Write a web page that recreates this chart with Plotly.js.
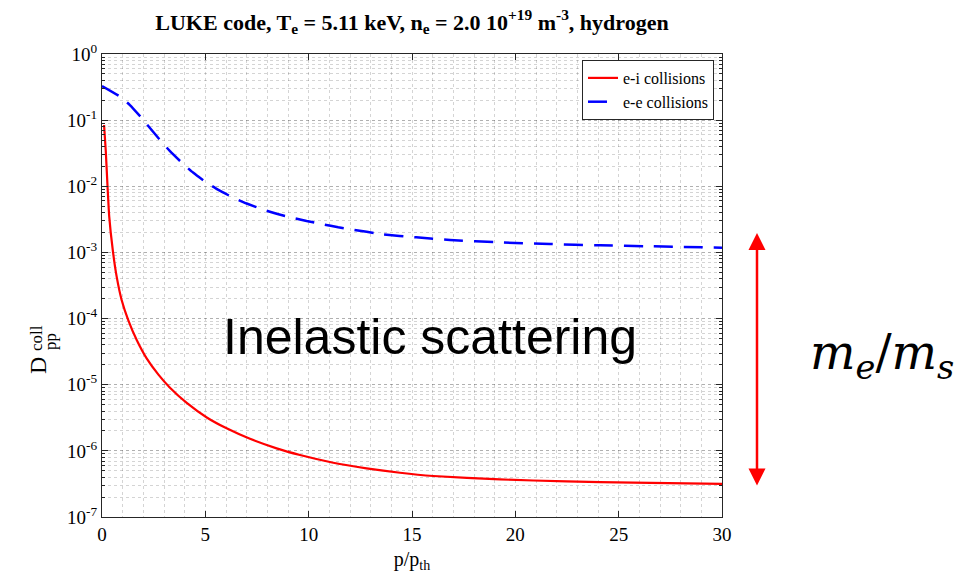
<!DOCTYPE html>
<html>
<head>
<meta charset="utf-8">
<script src="https://cdn.plot.ly/plotly-3.0.1.min.js"></script>
<style>html,body{margin:0;padding:0;background:#fff;}#chart{width:973px;height:577px;}</style>
</head>
<body>
<div id="chart"></div>
<script>
// e-i collisions (red, solid)
const eiX = [0.10, 0.18, 0.26, 0.35, 0.52, 0.71, 0.95, 1.27, 1.68, 2.16, 2.73, 3.29, 4.1, 5.07, 6.03, 7.16, 8.45, 9.58, 11.19, 12.8, 14.42, 16.03, 19.26, 22.48, 25.7, 30];
const eiY = [0.0845, 0.0354, 0.0111, 3.47e-3, 1.09e-3, 4.3e-4, 1.91e-4, 9.5e-5, 4.74e-5, 2.5e-5, 1.42e-5, 9.0e-6, 5.3e-6, 3.2e-6, 2.19e-6, 1.52e-6, 1.09e-6, 8.65e-7, 6.62e-7, 5.45e-7, 4.67e-7, 4.17e-7, 3.7e-7, 3.45e-7, 3.3e-7, 3.17e-7];
// e-e collisions (blue, dashed)
const eeX = [0, 0.87, 1.35, 1.92, 2.32, 2.89, 3.29, 3.93, 4.42, 5.07, 5.63, 6.35, 7.0, 7.8, 8.45, 9.26, 9.9, 10.7, 11.43, 12.0, 13.6, 15.2, 16.84, 19.26, 21.68, 24.1, 26.5, 30];
const eeY = [0.328, 0.227, 0.169, 0.1077, 0.0761, 0.0467, 0.0340, 0.0217, 0.0160, 0.0113, 0.00881, 0.00672, 0.00549, 0.00444, 0.00384, 0.00331, 0.00298, 0.00266, 0.00240, 0.00224, 0.00188, 0.00169, 0.00154, 0.00142, 0.00134, 0.00128, 0.00124, 0.00118];
// y tick labels
const yTickVals = [1e-7, 1e-6, 1e-5, 1e-4, 1e-3, 1e-2, 1e-1, 1];
const yTickText = ['10<sup>-7</sup>', '10<sup>-6</sup>', '10<sup>-5</sup>', '10<sup>-4</sup>', '10<sup>-3</sup>', '10<sup>-2</sup>', '10<sup>-1</sup>', '10<sup>0</sup>'];
const seriesNames = ['e-i collisions', 'e-e collisions'];

const L = 102, R = 722, T = 54, B = 517;
const W = 973, H = 577;
const px = x => (x - L) / (R - L);
const py = y => (B - y) / (B - T);

const serif = 'Liberation Serif, Times New Roman, serif';
const axisColor = '#262626';
const gridColor = 'rgba(0,0,0,0.17)';

const traces = [
  {x: eiX, y: eiY, name: seriesNames[0], mode: 'lines', type: 'scatter',
   line: {color: '#ff0000', width: 2.2, shape: 'spline', smoothing: 0.4}},
  {x: eeX, y: eeY, name: seriesNames[1], mode: 'lines', type: 'scatter',
   line: {color: '#0000ff', width: 2.5, dash: '19px,11px', shape: 'spline', smoothing: 0.4}}
];

const layout = {
  width: W, height: H,
  margin: {l: L, r: W - R, t: T, b: H - B},
  paper_bgcolor: '#ffffff', plot_bgcolor: '#ffffff',
  showlegend: true,
  title: {text: '<b>LUKE code, T<sub>e</sub> = 5.11 keV, n<sub>e</sub> = 2.0 10<sup>+19</sup> m<sup>-3</sup>, hydrogen</b>',
          font: {family: serif, size: 22, color: '#000'}, x: px(412), xref: 'paper', xanchor: 'center', y: 1 - 22 / H, yanchor: 'middle'},
  xaxis: {
    range: [0, 30], dtick: 5, tick0: 0,
    showline: true, linecolor: axisColor, linewidth: 1, mirror: 'allticks',
    ticks: 'inside', ticklen: 6, tickcolor: axisColor,
    showgrid: true, gridcolor: gridColor, griddash: 'dot', gridwidth: 1,
    minor: {dtick: 1, showgrid: true, gridcolor: gridColor, griddash: 'dot', gridwidth: 1, ticks: ''},
    zeroline: false,
    tickfont: {family: serif, size: 19, color: '#000'},
    title: {text: 'p/p<sub>th</sub>', font: {family: serif, size: 20, color: '#000'}, standoff: 8}
  },
  yaxis: {
    type: 'log', range: [-7, 0],
    tickmode: 'array', tickvals: yTickVals, ticktext: yTickText,
    showline: true, linecolor: axisColor, linewidth: 1, mirror: 'allticks',
    ticks: 'inside', ticklen: 6, tickcolor: axisColor,
    showgrid: true, gridcolor: gridColor, griddash: 'dot', gridwidth: 1,
    minor: {dtick: 'D1', showgrid: true, gridcolor: gridColor, griddash: 'dot', gridwidth: 1, ticks: 'inside', ticklen: 3, tickcolor: axisColor},
    zeroline: false,
    tickfont: {family: serif, size: 19, color: '#000'}
  },
  legend: {
    x: px(714), y: py(60), xanchor: 'right', yanchor: 'top',
    bgcolor: '#ffffff', bordercolor: axisColor, borderwidth: 1,
    font: {family: serif, size: 16, color: '#000'},
    tracegroupgap: 0
  },
  annotations: [
    {text: 'D', xref: 'paper', yref: 'paper', x: px(38), y: py(366), showarrow: false, textangle: -90,
     font: {family: serif, size: 24, color: '#000'}, xanchor: 'center', yanchor: 'middle'},
    {text: 'coll', xref: 'paper', yref: 'paper', x: px(36), y: py(338), showarrow: false, textangle: -90,
     font: {family: serif, size: 17, color: '#000'}, xanchor: 'center', yanchor: 'middle'},
    {text: 'pp', xref: 'paper', yref: 'paper', x: px(50), y: py(341), showarrow: false, textangle: -90,
     font: {family: serif, size: 17, color: '#000'}, xanchor: 'center', yanchor: 'middle'},
    {text: 'Inelastic scattering', xref: 'paper', yref: 'paper', x: px(430), y: py(337), showarrow: false,
     font: {family: 'Liberation Sans, Arial, sans-serif', size: 50, color: '#000'}, xanchor: 'center', yanchor: 'middle'},
    {text: '<i>m<sub>e</sub></i>/<i>m<sub>s</sub></i>', xref: 'paper', yref: 'paper', x: px(882), y: py(355), showarrow: false,
     font: {family: 'DejaVu Serif, serif', size: 48, color: '#000'}, xanchor: 'center', yanchor: 'middle'},
    {text: '', xref: 'paper', yref: 'paper', x: px(757), y: py(233), ax: 0, ay: 254,
     showarrow: true, arrowside: 'end+start', arrowhead: 2, startarrowhead: 2,
     arrowsize: 1.36, startarrowsize: 1.36, arrowwidth: 2.5, arrowcolor: '#ff0000', standoff: 0, startstandoff: 0}
  ]
};

Plotly.newPlot('chart', traces, layout, {displayModeBar: false, staticPlot: true});
</script>
</body>
</html>
